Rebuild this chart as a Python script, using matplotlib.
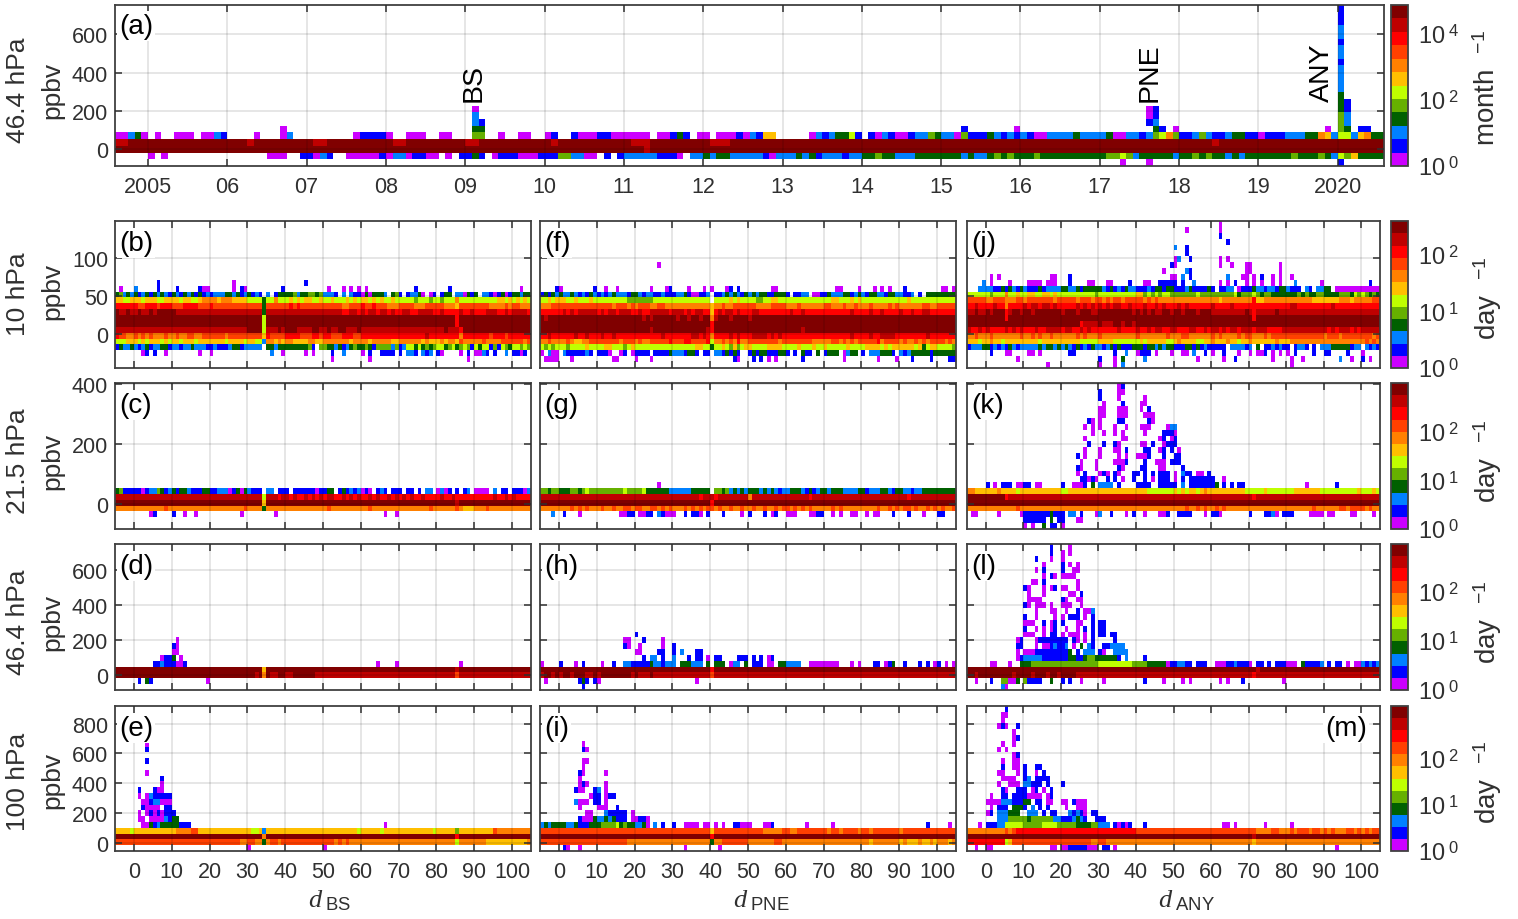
import numpy as np
import matplotlib
matplotlib.use("Agg")
import matplotlib.pyplot as plt
from matplotlib.colors import ListedColormap, LogNorm
from matplotlib.cm import ScalarMappable

plt.rcParams['font.family'] = ['Liberation Sans', 'DejaVu Sans']
plt.rcParams['mathtext.fontset'] = 'custom'
plt.rcParams['mathtext.rm'] = 'Liberation Sans'
plt.rcParams['mathtext.it'] = 'Liberation Serif:italic'

W, H = 1518, 920
DARK = '#303030'

# colour classes of the count, lowest first (hex digit in the rows below)
level_colors = ['#cc00ff', '#0000ff', '#0080ff', '#006000', '#66b000', '#bfff00',
                '#ffbf00', '#ff8000', '#ff4000', '#ff0000', '#bf0000', '#800000']

# rows run from the bottom bin up, groups are split at every tick so they can be read off
# a one letter group fills its whole slot, a row of one letter fills the whole row
day_groups = [5] + [10] * 10 + [5]
month_groups = [5] + [12] * 15 + [7]

rows_a = [
    "",
    ". 0.0. ......000..1 1021..000001 02201100.0.1 131.01110001 11442200.1.1 222221110.22 323322222102 223231222122 334332223333 333232234343 334333333333 344542333332 334343323233 333334333432 5463333",
    "b",
    "aabbb b bbbabbbbbbbb baabbbbbbbbb baabbbbbbbbb aabbbbbbbbbb babbbbbbbbbb baaabbbbbbbb baaabbbbbbbb b b b b b bbbbbabbbbbb b b",
    "00230 .0..000.0021 ....0...02.. .......01111 0..000..00.. .44..0..00.. 01..10001100 0000.00131.0 0.000102166. ....02123351 .10210012243 220411132121 210022223222 230022124574 112421123311 011122233762 5526733",
]
# single bins of the top panel: row, month, class
spike_row = [0, 0, 0, 2,
             5, 5, 5, 5, 5, 5, 5, 5, 5, 5, 5, 5, 5,
             6, 6, 6, 6, 6, 6, 7, 7, 7, 7, 7, 8, 8, 8, 8, 8,
             9, 9, 10, 11, 12, 13, 14, 15, 16, 17, 18, 19, 20, 21, 22, 23]
spike_month = [152, 156, 185, 80,
               25, 54, 55, 128, 136, 157, 158, 160, 183, 185, 186, 188, 189,
               54, 55, 156, 157, 185, 186, 54, 156, 157, 185, 186, 54, 156, 157, 185, 186,
               185, 186, 185, 185, 185, 185, 185, 185, 185, 185, 185, 185, 185, 185, 185, 185]
spike_level = [0, 0, 1, 10,
               0, 3, 3, 1, 0, 3, 1, 0, 0, 4, 3, 1, 1,
               2, 1, 1, 2, 4, 2, 2, 0, 1, 4, 2, 0, 0, 1, 3, 1,
               3, 1, 3, 2, 2, 2, 2, 1, 2, 2, 1, 2, 2, 1, 1, 1]

rows_b = [
    "",
    ". . . . . . ..0. ..0. . ........0. . .",
    ". ..01.1..0. .......0.. 0. ......2..0 .....0.0.. ..1..2.... 0.1..1111. 1.221.212. 10....0.1. 0021.1..2. 1101.",
    "13223 2123122331 2212232221 1211123312 2222.33233 33333341.4 4332312343 3431444424 1255353434 5534534541 5355141543 55454",
    "55566 6565666565 6656665666 6666566665 6655277676 7766667766 7777777677 7767777766 7777776766 6767768777 7787777888 88878",
    "98877 8787877787 7877887788 8888788888 8888698888 9999888998 9988899988 9999999999 9999999a99 9999997999 9999899989 99999",
    "a a a a bbbb5aaaba bbbaaaabba abaabbaaab a a aabaaa9bbb b b",
    "b b b b bbbb5bbbbb b b b b bbbbb9bbbb b b",
    "b b b b bbbb5bbbbb b b b b bbbbb9bbbb b b",
    "baaba abaababbbb baaaaaaaaa a aaaa3aaaaa a aaaaa99aa9 a9aa9aa9a9 9aa99aaaa9 9a9999a99a 999aaa99a9 aaaa9",
    "99999 9889998999 8889999888 9888888888 8888388888 8989888888 8888877888 9889888777 8888777888 8877768888 8888777787 88777",
    "66556 6656665566 6656655677 7767776666 5555355755 5656566556 5565556565 6656565565 5555455545 5455575555 5555556656 56565",
    "34232 3123132321 3213231312 1222332312 3121.2.133 3342334434 2221.2.211 0303332.34 1.12230.01 .133.22031 3.22101301 33233",
    ".0... 2.....1... .1.....100 ......0.10 .........1 . .0...0.0.0 .0........ ....1..... ...1...... . ..0..",
    ". ......1... . ......0... . .....1....",
]

rows_c = [
    "",
    "",
    ". ....01.... 1..0..0... ........0. .......0.. . . ......0..0 . . . .",
    "77777 7777777787 7777777777 7777777778 7777377777 7777777777 7877777777 7787777777 7777777787 7777787666 7778777777 77777",
    "b b b b bbbb6bbbbb b b b b bbbbbabbbb b b",
    "a a a a aaaa5aaa9a a9a99a9a9a 9aa99a9a9a 99a9a99a9a 9a9a99a999 9a99a99999 99999a99a9 a9999999aa 99999",
    "34111 1101224312 3133211133 1122201303 2111.22.11 1.11111101 133.131212 010.121.11 1.11.1.22. 0201.1.12. 0000.2.11. 11102",
]

rows_d = [
    "",
    ". .1.31..... .........0",
    "b b b b bbab7baabb aabbbbbbaa a a a aaaaa8aaaa a a",
    "b b b b bbbb6bbbbb b b b b bbbbbabbbb b b",
    ". .....11211 1001...... . . . . ....0....0 . ......0... . .",
    ". .......011 3.0.......",
    ". . 00........",
    ". . 10........",
    ". . .0........",
]

rows_e = [
    ". . . . 0......... . 0.........",
    "88888 8888888888 8888888888 8888888877 8877378878 8888888888 8887878777 7777777777 7777777777 7777757777 7776666666 66667",
    "b b b b bbbb7bbbbb b b b b bbbbb9bbbb b b",
    "66665 6666666666 6777788666 6666666666 6556266666 6666666666 6666666665 6666656666 6666666665 6666646666 6666687777 77777",
    ". ..00312333 33111..... . . . . ......0... . . .",
    ". .00.000021 33........",
    ". .0.0101011 1.........",
    ". ..10000.11",
    ". ..00122000",
    ". .0.0211111",
    ". .1...100..",
    ". .......0..",
    ". .......1..",
    ". ...0......",
    "",
    ". ...1......",
    "",
    ". ...1......",
    ". ...0......",
]

rows_f = [
    "",
    ".0000 ...0...... ....00.... 0...0..... .......... ......10.. .1.1.0.0.. ....1..... .....0.... ....0....0 ...1....1. ...11",
    "0.200 .21111121. 1110..01.0 1111.11113 2221331.11 .2213131.. 1313311133 1.1.311.3. 1333.0233. 1.2223331. 2123333313 33333",
    "54545 5545555655 5566555456 5555555555 5555556655 3556546456 6555566665 5556555655 6555556555 5666656566 6666563566 55554",
    "77877 7787667788 8888887888 7877888889 8889988889 5778787977 8888888878 8888888777 7788787878 8888978888 7877878788 88787",
    "99a99 9999a99a99 9a99a99999 9999999a99 99999aa9a9 79999a9a99 9aaaa9a9a9 9999999999 9999999a99 99a99aaaa9 9999999a99 99999",
    "b b b bbbbabbbbb bbbbbbbbba 9bbbbbbbbb b bbbbabbbbb b b b b b",
    "b b b b b 9bbbbbbbbb b b b b b b",
    "babbb b b bbababbbbb babbabbabb 7abbbabbbb abbbbbbbbb b b b b b",
    "99999 9a9a9aaaaa 9a9aa9aaa9 9a99aaaaa9 aaa9a9aa99 69a9aa9a99 9aa9999999 9a99a99999 9999999a99 99a99a9999 a99a99aa99 99999",
    "77788 8888888888 8888788878 7888778877 7777777777 6778778888 8877778888 7778777777 8877787787 7787777878 7777778877 88888",
    "55656 6655655565 5555555544 4444455555 5555555555 .555565655 5544556655 5555555555 5566555656 5555555555 5565555555 55555",
    "13132 3223212132 1212322213 3212211211 1223100112 .112323213 2323311333 1.1122.001 1322233123 2133221332 2112.1.333 33333",
    "....1 0........1 ..0..0.... ....0...01 ....0...0. 0...01.1.. ......00.. .......... ...00....0 ...0.0.0.. .1........ .00.0",
    "",
    "",
    "",
    ". . . ......0...",
]

rows_g = [
    "",
    "",
    "...2. .1...0.... ......0011 .0011.2100 0..1.110.1 ...1....0. 1...1.01.. 000...0011 ..0.0..00. .0.00...1. ..1...0... 11...",
    "77777 7778787877 7877877887 8877887878 7778787878 8787787787 7877877878 8787878777 7787877777 7777877878 7887877878 78778",
    "b b b b b 9bbbbbbbbb b b b b b b",
    "a a a a aaaaaaa9aa a9aaaaaaaa 7aaaaaaaaa aaaaaa9aaa a a aa9aaaaaaa aaaaaa9aaa a99aa",
    "44344 3334434544 4444444544 4453333332 2222233333 .443423232 3332323212 2333213123 3233322223 3122233213 3221223333 33333",
    ". . . ......0...",
]

rows_h = [
    ". ......1...",
    ".0... .....131.1 0......... . ......0...",
    "abbab abbabbbaab abbbbbbbba baaabaaaaa a 8aaaaaaaaa a a a a a a",
    "b b b b b 9bbbbbbbbb b b b b b b",
    "0.... 1...0.1... .0..1..221 1111322122 2.333222.3 .333.022.3 .111.00.33 2222..0000 0000...0.0 ...11.013. .1...1.1.0 1.0.0",
    ". . . ..1.22.1.. 2...1.11.0 .11....111 .1.1.01...",
    ". . . 00....11.. 1.2...11..",
    ". . .......10. .0.....0.. 1.........",
    ". . .......00. ..1....0..",
    ". . . 1.........",
]

rows_i = [
    ". .10..0.... . . ...0...... ..0.......",
    "88888 8888888888 8888888877 7777777777 7777777777 3778888888 7777777887 7777777777 7777777777 7767777777 6766676676 77767",
    "b b b b b 9bbbbbbbbb b b b b b b",
    "88888 8888888888 8888888888 8888888888 8888888888 6888888888 8888777778 8778888888 8788788887 8878888888 7888888888 88888",
    "23233 3322311133 3444453433 2230.2.1.. 1..0000.00 .0.0..1100 0...001... .....0.... ..0....... . .......1.. ...0.",
    ". .....10003 22323111.0 0110......",
    ". .......00. ..211111.0",
    ". .....0.... 000..1....",
    ". ....2000.1 1.0.......",
    ". ........01 1.011.....",
    ". ....100..1 2.0.......",
    ". .....010.. ..0.......",
    ". .....0....",
    ". .....10... ..0.......",
    ". ......0...",
    ". ......00..",
    "",
    ". ......10..",
    ". ......0...",
]

rows_j = [
    ". . ......0... . 0...0.2... . . . . .0........ . .",
    ". ........0. . . 1...0.3... ..2....... ......0... ...0..1... ......0... .0..0..... ....2..0.. 1.0..",
    "..... .1...00... .00.0..... ..11...... ....1..2.. 0111.0...0 ..00.2..1. 0..1...0.. 0.001.0.0. 0.1....1.. 11....1... 0....",
    "12223 3121213212 2222323323 2321312132 2123131113 3313323233 1113313121 1111.22221 2.3.112121 1.1221.1.2 2233333122 .2121",
    "66656 6766566666 6666566666 6666655555 6666555555 5656666655 6766665566 7666766566 7666666766 6777777777 7777777777 78787",
    "77877 7877777778 7787877877 7777878777 8777777777 8777777787 7788777777 8787777878 8777878888 8888888888 7888788888 88878",
    "a99a9 a9999a9a9a 999a99aaaa 9aa99a9a99 99999a9999 a99a9aa99a a999aa99a9 aa9a9aa9aa a9aaa9999a aaaaaaaaaa a9a9aaa9a9 aaaaa",
    "b b b bbbbb9aaaa baaabbabba bbbbbbbbbb b b b b b b b",
    "bbbbb bbbbb9bbbb b b b b b b b9bbbbbbbb b b b",
    "aabaa babbb9abba bbabbbbbbb abbbabbbaa bbbbbbbbba bababaabba bbabbbabbb aaaaaaaaab a9aaaaabaa a a a",
    "99a99 99a9979999 a9aa9aa9a9 9999a9a9a9 a9a9aa99a9 99a99a9a99 9a9a999999 a9999a9999 9999999999 9aa9999999 99a9999999 99999",
    "88888 7788877788 7888888878 8888788878 8787887888 8878787777 7777777777 7767777777 7966777777 7777777666 6666777677 77788",
    "55555 5455575565 5665566565 5555555554 5555555555 6645454554 4444445444 4444445344 4543443333 3334343344 3333444354 54343",
    "...22 2211313213 2111312222 3322313333 3213121322 1112133133 1112311113 1.1122.011 1322122133 2111.21.22 33.0000000 00000",
    "....2 .0....0... .0000.000. ..1....00. ..00....1. ..00..1111 1.1..2.... ..0.0.1..0 .0.0..0.0. ..2......0 . ..1..",
    ". .0.0...... .......00. ..1....... . .........0 0.2.1..... ....2...00 .0.1..0.0. .0........",
    ". . . . . .......0.. ...21..... .........0 0.......0.",
    ". . . . . .........1 0......... ..0..0...0 0.......0.",
    ". . . . . . 02..1..... ..0.0.....",
    ". . . . . . ...1......",
    ". . . . . . 2..1......",
    ". . . . . . . ....1.....",
    ". . . . . . . ..1.......",
    ". . . . . . ...0...... ..0.......",
    ". . . . . . . ..0.......",
]

rows_k = [
    ". . 0.0..3.11. 0.........",
    ". . 111111.3.1 1...00....",
    ".00.. ...0.....0 1111111311 1.22.1...0 2..1...0.1 ..0...001. .1111...0. 110....... 1...1120.1 11....0000 .00....00. ...0.",
    "7 7777777787 7777777777 7777777777 7777777777 7777777777 7778778787 7878777777 7777777777 7777777877 7777887888 87877",
    "b",
    "bbbbb bbbbb9aaaa a a a a a a a9aaaaaaaa a a a",
    "77666 6667666656 6666666666 5566666666 6666666666 6665555555 6565665676 6666666665 5555655555 5566666665 5555555556 55565",
    ". 1.0.111.00 11.00..... 1..0001.3. 2222.1.... 1111..1111 1.2.111111 13.1.1.11. . .....0.... ...1...... .",
    ". . . .....11010 ..1.1.0..1 ..1.0.111. 0.1.111111 1..0......",
    ". . . ....0.1... 010.10...1 1.1.1.111. 0.211.00.1",
    ". . . ....10...0 .....10... .11...00.. ..1.......",
    ". . . .....0...0 ....0001.. ..1..000.1 11........",
    ". . . ....1.0... 0....0.0.. 0001...1.. 11........",
    ". . . ......0... 0...00.1.. ..11..01.1 .0........",
    ". . . .......1.. .1..10.... .00.1..011 1.........",
    ". . . ......0... ......00.. ......01.0 1.........",
    ". . . ........0. .0..0.0... ..0....111 0.........",
    ". . . ......0.0. 0...0..0.. .000....02 2.........",
    ". . . .......10. 0....11... ...10.....",
    ". . . . 00...000.. ..000.....",
    ". . . . 00...000.. .0.1......",
    ". . . . .0....1... .00.......",
    ". . . . 1....0.... ..0.......",
    ". . . . 1....00...",
    ". . . . .....01...",
]

rows_l = [
    ". ....20....",
    "..0.. .1..44003. 41111..3.. 1.1..0.... .0........ ..1....0.. ..0.0..... ..0.0...1. .........0",
    "bbabb bbbbbbbabb bbabbbabba bbbbaaaaaa a a a a a9aaaaaaaa a a a",
    "b b b b b b b b bbabbbbbbb b b b",
    ". .00...0..3 3344444444 4444444444 5555555554 4443333301 12211.111. .000112111 0.11.1.111 000.311112 .1.11.0.00 21212",
    ". ........01 2222211111 1133113443 333331.2.. ..1.......",
    ". ........0. 0001111111 113.1.222. 10..2222..",
    ". ........11 ...0.00121 12.0.3.21. .112222...",
    ". ........01 ...0111111 11.10.0.1. ....1.....",
    ". . 000..0.11. 0.000.0.1. 11.11.....",
    ". . 1..0.0.01. .0..0.1.1. 11........",
    ". . 000..1.01. 1...00..1. 11........",
    ". . 1..0....0. 0.111.0.1.",
    ". . ...0...00. .0..1.002.",
    ". . 10.000.0.. 000..0....",
    ". . .0000..... 10..00....",
    ". . .0...0.... ..00.1....",
    ". . 10...0.01. 00..0.....",
    ". . ..00.1.... ....0.....",
    ". . .....0.10. 0000......",
    ". . ...0.1.... 1..00.....",
    ". . .....0.... 1.0.0.....",
    ". . ...1...0.. 0.........",
    ". . .......1.. 0.0.......",
    ". . .......1.. ..0.......",
]

rows_m = [
    "..0.. 00........ .......00. 0011111000 .11.0..... . . . . . ...0...... .",
    "99999 9999956888 8888888888 8888888877 8877777777 7777777777 7777777777 7777777777 7677777777 7777777777 7777777777 77777",
    "b b b b b b b b babbbbbbbb b b b",
    "77777 7777787899 9999999999 9999999999 9999999999 8888888888 8888888888 8888888888 8877778877 7878887887 8787778878 78788",
    "...0. 1112255555 4444455554 4444333344 222.10101. ..1....... . ...00.0... ....0..... .0........ . .",
    ". ...2224444 4344444422 1112321..1 11........",
    ". 01.222333. .222.1.11. ..21210.11",
    ". .0.111.333 1.2.1.1... .0..000...",
    ". 0000222111 33.11.00.. 00.1000...",
    ". .0..11.111 10000.01..",
    ". ....10..11 1.01.0.1..",
    ". ...0..000. 22111.1... 1.........",
    ". ....0000.. 12.1111...",
    ". ...00...0. 1..0.1....",
    ". ....1..00. 1..11.....",
    ". ....0..00.",
    ". .......01.",
    ". ...0.0....",
    ". ....0..0..",
    ". .......01.",
    ". .......0..",
    ". ...010..1.",
    ". ....0.....",
    ". ....00....",
    ". .....1....",
]

# axis limits
ylim_a = (-87, 752)
ylim_b = (-44, 148)
ylim_c = (-83, 403)
ylim_d = (-87, 752)
ylim_e = (-56, 918)

yticks_a = [0, 200, 400, 600]
yticks_b = [0, 50, 100]
yticks_c = [0, 200, 400]
yticks_d = [0, 200, 400, 600]
yticks_e = [0, 200, 400, 600, 800]

year_labels = ['2005', '06', '07', '08', '09', '10', '11', '12', '13', '14', '15', '16', '17', '18', '19', '2020']
day_ticks = list(range(0, 101, 10))

# colorbar top as decades above 1
cbar_top_a = 4.85
cbar_top_b = 2.6
cbar_top_c = 3.0
cbar_top_d = 2.96
cbar_top_e = 3.15

cmap = ListedColormap(level_colors)
cmap.set_bad('white')


def parse_rows(rows, groups, nrows):
    cells = np.full((nrows, sum(groups)), np.nan)
    for i, row in enumerate(rows[:nrows]):
        parts = row.split()
        if len(parts) == 1 and len(parts[0]) == 1:
            parts = parts * len(groups)
        k = 0
        for g, size in enumerate(groups):
            txt = parts[g] if g < len(parts) else '.'
            txt = txt[:size]
            if len(txt) == 1:
                txt = txt * size
            for c, ch in enumerate(txt):
                if ch != '.':
                    cells[i, k + c] = int(ch, 16)
            k += size
    return cells


def make_axes(box):
    l, t, r, b = box
    return fig.add_axes([l / W, 1 - b / H, (r - l) / W, (b - t) / H])


def style_axes(ax, yticks, ylim, ylabels):
    ax.set_ylim(ylim)
    ax.set_yticks(yticks)
    if not ylabels:
        ax.set_yticklabels([])
    ax.tick_params(direction='in', top=True, right=True, length=5, width=1.1, color=DARK,
                   labelcolor=DARK, labelsize=15.5, pad=5)
    ax.grid(True, color='black', alpha=0.1, lw=1.4)
    ax.set_axisbelow(False)
    for s in ax.spines.values():
        s.set_color('#404040')
        s.set_linewidth(1.3)


def px_text(x, y, s, **kw):
    fig.text(x / W, 1 - y / H, s, ha='center', va='center', **kw)


def panel_label(x, y, s):
    fig.text(x / W, 1 - y / H, s, ha='left', va='center', fontsize=20, color='black',
             bbox=dict(facecolor='white', edgecolor='none', pad=1.5), zorder=10)


def add_colorbar(box, top, ticks, labels, unit, unit_y):
    cax = make_axes(box)
    sm = ScalarMappable(norm=LogNorm(1, 10 ** top), cmap=cmap)
    cb = fig.colorbar(sm, cax=cax)
    cb.set_ticks(ticks)
    cb.set_ticklabels(labels)
    cb.minorticks_off()
    cax.tick_params(length=0, labelsize=17, labelcolor=DARK, pad=7)
    cb.outline.set_edgecolor('#404040')
    cb.outline.set_linewidth(1.3)
    px_text(1488, unit_y, unit, rotation=90, fontsize=20, color=DARK)


fig = plt.figure(figsize=(W / 100, H / 100), dpi=100)

# top panel, months since Aug 2004
ax_a = make_axes((115, 6, 1384, 167))
y_edges = np.linspace(ylim_a[0], ylim_a[1], 25)
cells_a = parse_rows(rows_a, month_groups, 24)
cells_a[spike_row, spike_month] = spike_level
ax_a.pcolormesh(np.arange(193), y_edges, np.ma.masked_invalid(cells_a), cmap=cmap, vmin=-0.5, vmax=11.5)
style_axes(ax_a, yticks_a, ylim_a, True)
ax_a.set_xticks(np.arange(5, 192, 12))
ax_a.set_xticklabels(year_labels)
ax_a.set_xlim(0, 192)
ax_a.tick_params(axis='x', pad=7)
event_names = ['BS', 'PNE', 'ANY']
event_months = [54.2, 156.5, 182.6]
event_ppbv = [250, 250, 250]
for name, m, v in zip(event_names, event_months, event_ppbv):
    ax_a.text(m, v, name, rotation=90, ha='center', va='bottom', fontsize=20.5, color='black')
panel_label(119, 27, '(a)')
add_colorbar((1391, 6, 1408, 167), cbar_top_a, [1, 1e2, 1e4],
             [r'10$^{\ 0}$', r'10$^{\ 2}$', r'10$^{\ 4}$'], r'month  $^{-1}$', 88)

# day panels
row_tops = [(222, 369), (384, 530), (545, 691), (707, 852)]
col_sides = [(115, 531), (540, 956), (967, 1380)]
col_rows = [[rows_b, rows_c, rows_d, rows_e],
            [rows_f, rows_g, rows_h, rows_i],
            [rows_j, rows_k, rows_l, rows_m]]
letters = [['(b)', '(c)', '(d)', '(e)'], ['(f)', '(g)', '(h)', '(i)'], ['(j)', '(k)', '(l)', '(m)']]
ylims = [ylim_b, ylim_c, ylim_d, ylim_e]
yticks = [yticks_b, yticks_c, yticks_d, yticks_e]
day_edges = np.arange(-5, 106)

for c, (left, right) in enumerate(col_sides):
    for r, (top, bottom) in enumerate(row_tops):
        ax = make_axes((left, top, right, bottom))
        y_edges = np.linspace(ylims[r][0], ylims[r][1], 26)
        cells = np.ma.masked_invalid(parse_rows(col_rows[c][r], day_groups, 25))
        ax.pcolormesh(day_edges, y_edges, cells, cmap=cmap, vmin=-0.5, vmax=11.5)
        style_axes(ax, yticks[r], ylims[r], c == 0)
        ax.set_xlim(-5, 105)
        ax.set_xticks(day_ticks)
        if r < 3:
            ax.set_xticklabels([])
        else:
            ax.tick_params(axis='x', pad=7)
        if letters[c][r] == '(m)':
            panel_label(right - 55, top + 22, letters[c][r])
        else:
            panel_label(left + 4, top + 22, letters[c][r])

tops = [cbar_top_b, cbar_top_c, cbar_top_d, cbar_top_e]
unit_ys = [298, 461, 622, 782]
for (top, bottom), cb_top, uy in zip(row_tops, tops, unit_ys):
    add_colorbar((1391, top, 1408, bottom), cb_top, [1, 10, 100],
                 [r'10$^{\ 0}$', r'10$^{\ 1}$', r'10$^{\ 2}$'], r'day  $^{-1}$', uy)

pressure_labels = ['46.4 hPa', '10 hPa', '21.5 hPa', '46.4 hPa', '100 hPa']
pressure_y = [90, 294, 461, 622, 782]
ppbv_y = [90, 291, 461, 622, 780]
for s, y1, y2 in zip(pressure_labels, pressure_y, ppbv_y):
    px_text(18, y1, s, rotation=90, fontsize=19, color=DARK)
    px_text(52, y2, 'ppbv', rotation=90, fontsize=19, color=DARK)

x_names = ['BS', 'PNE', 'ANY']
x_name_pos = [330, 761, 1187]
for s, x in zip(x_names, x_name_pos):
    px_text(x, 901, r'$\mathit{d}_{\ \mathrm{%s}}$' % s, fontsize=19, color=DARK)

fig.savefig('out.png', dpi=100)
